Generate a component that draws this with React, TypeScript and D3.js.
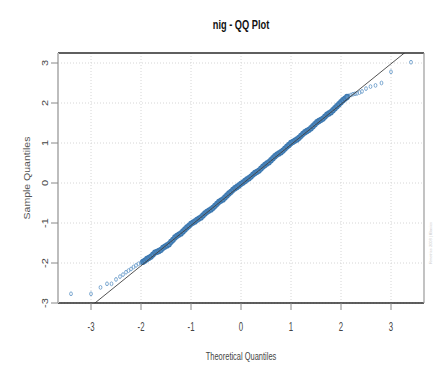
import { useEffect, useRef } from 'react'
import * as d3 from 'd3'

// theoretical quantile, sample quantile
const lowerTail: [number, number][] = [
  [-3.40, -2.77], [-3.00, -2.77], [-2.81, -2.61], [-2.68, -2.52], [-2.59, -2.52],
  [-2.50, -2.41], [-2.42, -2.34], [-2.36, -2.29], [-2.30, -2.23], [-2.25, -2.19],
  [-2.20, -2.15], [-2.15, -2.10], [-2.10, -2.06], [-2.05, -2.02], [-2.00, -1.99],
]

const body: [number, number][] = [
  [-1.96, -1.97], [-1.92, -1.94], [-1.88, -1.90], [-1.84, -1.87], [-1.80, -1.84],
  [-1.76, -1.79], [-1.72, -1.74], [-1.68, -1.72], [-1.64, -1.70], [-1.60, -1.67],
  [-1.56, -1.62], [-1.52, -1.59], [-1.48, -1.56], [-1.44, -1.53], [-1.40, -1.47],
  [-1.36, -1.42], [-1.32, -1.36], [-1.28, -1.32], [-1.24, -1.29], [-1.20, -1.26],
  [-1.16, -1.21], [-1.12, -1.16], [-1.08, -1.11], [-1.04, -1.07], [-1.00, -1.02],
  [-0.96, -0.99], [-0.92, -0.96], [-0.88, -0.92], [-0.84, -0.89], [-0.80, -0.86],
  [-0.76, -0.81], [-0.72, -0.76], [-0.68, -0.72], [-0.64, -0.69], [-0.60, -0.66],
  [-0.56, -0.62], [-0.52, -0.57], [-0.48, -0.52], [-0.44, -0.47], [-0.40, -0.44],
  [-0.36, -0.41], [-0.32, -0.36], [-0.28, -0.31], [-0.24, -0.26], [-0.20, -0.22],
  [-0.16, -0.17], [-0.12, -0.13], [-0.08, -0.10], [-0.04, -0.06], [0.00, -0.02],
  [0.04, 0.01], [0.08, 0.05], [0.12, 0.09], [0.16, 0.12], [0.20, 0.16],
  [0.24, 0.21], [0.28, 0.25], [0.32, 0.28], [0.36, 0.31], [0.40, 0.36],
  [0.44, 0.41], [0.48, 0.45], [0.52, 0.49], [0.56, 0.52], [0.60, 0.57],
  [0.64, 0.62], [0.68, 0.67], [0.72, 0.71], [0.76, 0.74], [0.80, 0.77],
  [0.84, 0.81], [0.88, 0.86], [0.92, 0.91], [0.96, 0.95], [1.00, 1.00],
  [1.04, 1.03], [1.08, 1.06], [1.12, 1.09], [1.16, 1.13], [1.20, 1.18],
  [1.24, 1.23], [1.28, 1.27], [1.32, 1.30], [1.36, 1.33], [1.40, 1.37],
  [1.44, 1.42], [1.48, 1.47], [1.52, 1.52], [1.56, 1.55], [1.60, 1.58],
  [1.64, 1.61], [1.68, 1.66], [1.72, 1.71], [1.76, 1.74], [1.80, 1.77],
  [1.84, 1.82], [1.88, 1.87], [1.92, 1.92], [1.96, 1.97], [2.00, 2.02],
  [2.04, 2.07], [2.08, 2.11], [2.12, 2.15],
]

const upperTail: [number, number][] = [
  [2.16, 2.18], [2.20, 2.20], [2.24, 2.22], [2.28, 2.23], [2.32, 2.24],
  [2.37, 2.26], [2.42, 2.29], [2.50, 2.36], [2.59, 2.41], [2.69, 2.44],
  [2.81, 2.50], [3.00, 2.78], [3.40, 3.02],
]

// reference line (qqline)
const lineIntercept = -0.05
const lineSlope = 1.01

const xTicks = [-3, -2, -1, 0, 1, 2, 3]
const yTicks = [-3, -2, -1, 0, 1, 2, 3]
const xDomain = [-3.66, 3.66]
const yDomain = [-3, 3.25]

const title = 'nig - QQ Plot'
const xLabel = 'Theoretical Quantiles'
const yLabel = 'Sample Quantiles'

export default function App() {
  const svgRef = useRef<SVGSVGElement>(null)

  useEffect(() => {
    if (!svgRef.current) return
    const width = 438
    const height = 372
    const margin = { top: 53, right: 14, bottom: 69, left: 58 }
    const font = '"Liberation Sans", Arial, sans-serif'

    const svg = d3.select(svgRef.current)
    svg.selectAll('*').remove()
    svg.attr('width', width).attr('height', height)

    svg.append('rect').attr('width', width).attr('height', height).attr('fill', '#fff')

    const x = d3.scaleLinear().domain(xDomain).range([margin.left, width - margin.right])
    const y = d3.scaleLinear().domain(yDomain).range([height - margin.bottom, margin.top])
    const [x0, x1] = x.range()
    const [y0, y1] = y.range()

    // grid
    svg.append('g').selectAll('line').data(xTicks).enter().append('line')
      .attr('x1', d => x(d)).attr('x2', d => x(d))
      .attr('y1', y1).attr('y2', y0)
      .style('stroke', '#d6d6d6').style('stroke-dasharray', '1,2')
    svg.append('g').selectAll('line').data(yTicks).enter().append('line')
      .attr('x1', x0).attr('x2', x1)
      .attr('y1', d => y(d)).attr('y2', d => y(d))
      .style('stroke', '#d6d6d6').style('stroke-dasharray', '1,2')

    // points
    const clip = svg.append('defs').append('clipPath').attr('id', 'plot-clip')
    clip.append('rect').attr('x', x0).attr('y', y1).attr('width', x1 - x0).attr('height', y0 - y1)

    const pts = svg.append('g')
    pts.selectAll('.tail').data([...lowerTail, ...upperTail]).enter().append('ellipse')
      .attr('class', 'tail')
      .attr('cx', d => x(d[0])).attr('cy', d => y(d[1]))
      .attr('rx', 1.4).attr('ry', 1.9)
      .style('fill', 'none').style('stroke', '#6f9fcc').style('stroke-width', 0.9)
    pts.selectAll('.body').data(body).enter().append('ellipse')
      .attr('class', 'body')
      .attr('cx', d => x(d[0])).attr('cy', d => y(d[1]))
      .attr('rx', 2.2).attr('ry', 2.5)
      .style('fill', '#5b90c2').style('stroke', '#3c78b0').style('stroke-width', 1.3)

    // qq line
    const lineGen = d3.line<number>().x(d => x(d)).y(d => y(lineIntercept + lineSlope * d))
    svg.append('path')
      .datum(xDomain)
      .attr('d', lineGen)
      .attr('clip-path', 'url(#plot-clip)')
      .style('fill', 'none').style('stroke', '#3f3f3f').style('stroke-width', 0.9)

    // box
    svg.append('line').attr('x1', x0).attr('x2', x1).attr('y1', y1).attr('y2', y1)
      .style('stroke', '#2a2a2a').style('stroke-width', 1.5)
    svg.append('line').attr('x1', x0).attr('x2', x1).attr('y1', y0).attr('y2', y0)
      .style('stroke', '#2a2a2a').style('stroke-width', 1.5)
    svg.append('line').attr('x1', x1).attr('x2', x1).attr('y1', y1).attr('y2', y0)
      .style('stroke', '#9a9a9a').style('stroke-width', 1.2)
    svg.append('line').attr('x1', x0).attr('x2', x0).attr('y1', y1).attr('y2', y0)
      .style('stroke', '#bdbdbd').style('stroke-width', 2)

    // x axis
    svg.append('g').selectAll('line').data(xTicks).enter().append('line')
      .attr('x1', d => x(d)).attr('x2', d => x(d))
      .attr('y1', y0).attr('y2', y0 + 7)
      .style('stroke', '#888')
    svg.append('g').selectAll('text').data(xTicks).enter().append('text')
      .attr('transform', d => `translate(${x(d)},${y0 + 28}) scale(0.65,1)`)
      .attr('text-anchor', 'middle')
      .style('font-family', font).style('font-size', '12px').style('fill', '#444')
      .text(d => String(d))

    // y axis
    svg.append('g').selectAll('line').data(yTicks).enter().append('line')
      .attr('x1', x0 - 7).attr('x2', x0)
      .attr('y1', d => y(d)).attr('y2', d => y(d))
      .style('stroke', '#888')
    svg.append('g').selectAll('text').data(yTicks).enter().append('text')
      .attr('transform', d => `translate(${x0 - 10},${y(d)}) rotate(-90) scale(1,0.8)`)
      .attr('text-anchor', 'middle')
      .style('font-family', font).style('font-size', '11px').style('fill', '#444')
      .text(d => String(d))

    // titles
    svg.append('text')
      .attr('transform', `translate(${(x0 + x1) / 2},${29}) scale(0.74,1)`)
      .attr('text-anchor', 'middle')
      .style('font-family', font).style('font-size', '12.5px').style('font-weight', 'bold')
      .style('fill', '#111')
      .text(title)
    svg.append('text')
      .attr('transform', `translate(${(x0 + x1) / 2},${y0 + 57}) scale(0.68,1)`)
      .attr('text-anchor', 'middle')
      .style('font-family', font).style('font-size', '11px').style('fill', '#444')
      .text(xLabel)
    svg.append('text')
      .attr('transform', `translate(${30},${(y0 + y1) / 2}) rotate(-90) scale(1,0.85)`)
      .attr('text-anchor', 'middle')
      .style('font-family', font).style('font-size', '10.5px').style('fill', '#555')
      .text(yLabel)

    // tiny watermark at the right edge
    svg.append('text')
      .attr('transform', `translate(${x1 + 8},${y(-1.5)}) rotate(-90)`)
      .attr('text-anchor', 'middle')
      .style('font-family', font).style('font-size', '4px').style('fill', '#ccc')
      .text('Rmetrics 2008 | fBasics')
  }, [])

  return (
    <div style={{ position: 'absolute', left: 0, top: 0 }}>
      <svg ref={svgRef} style={{ display: 'block' }}></svg>
    </div>
  )
}
